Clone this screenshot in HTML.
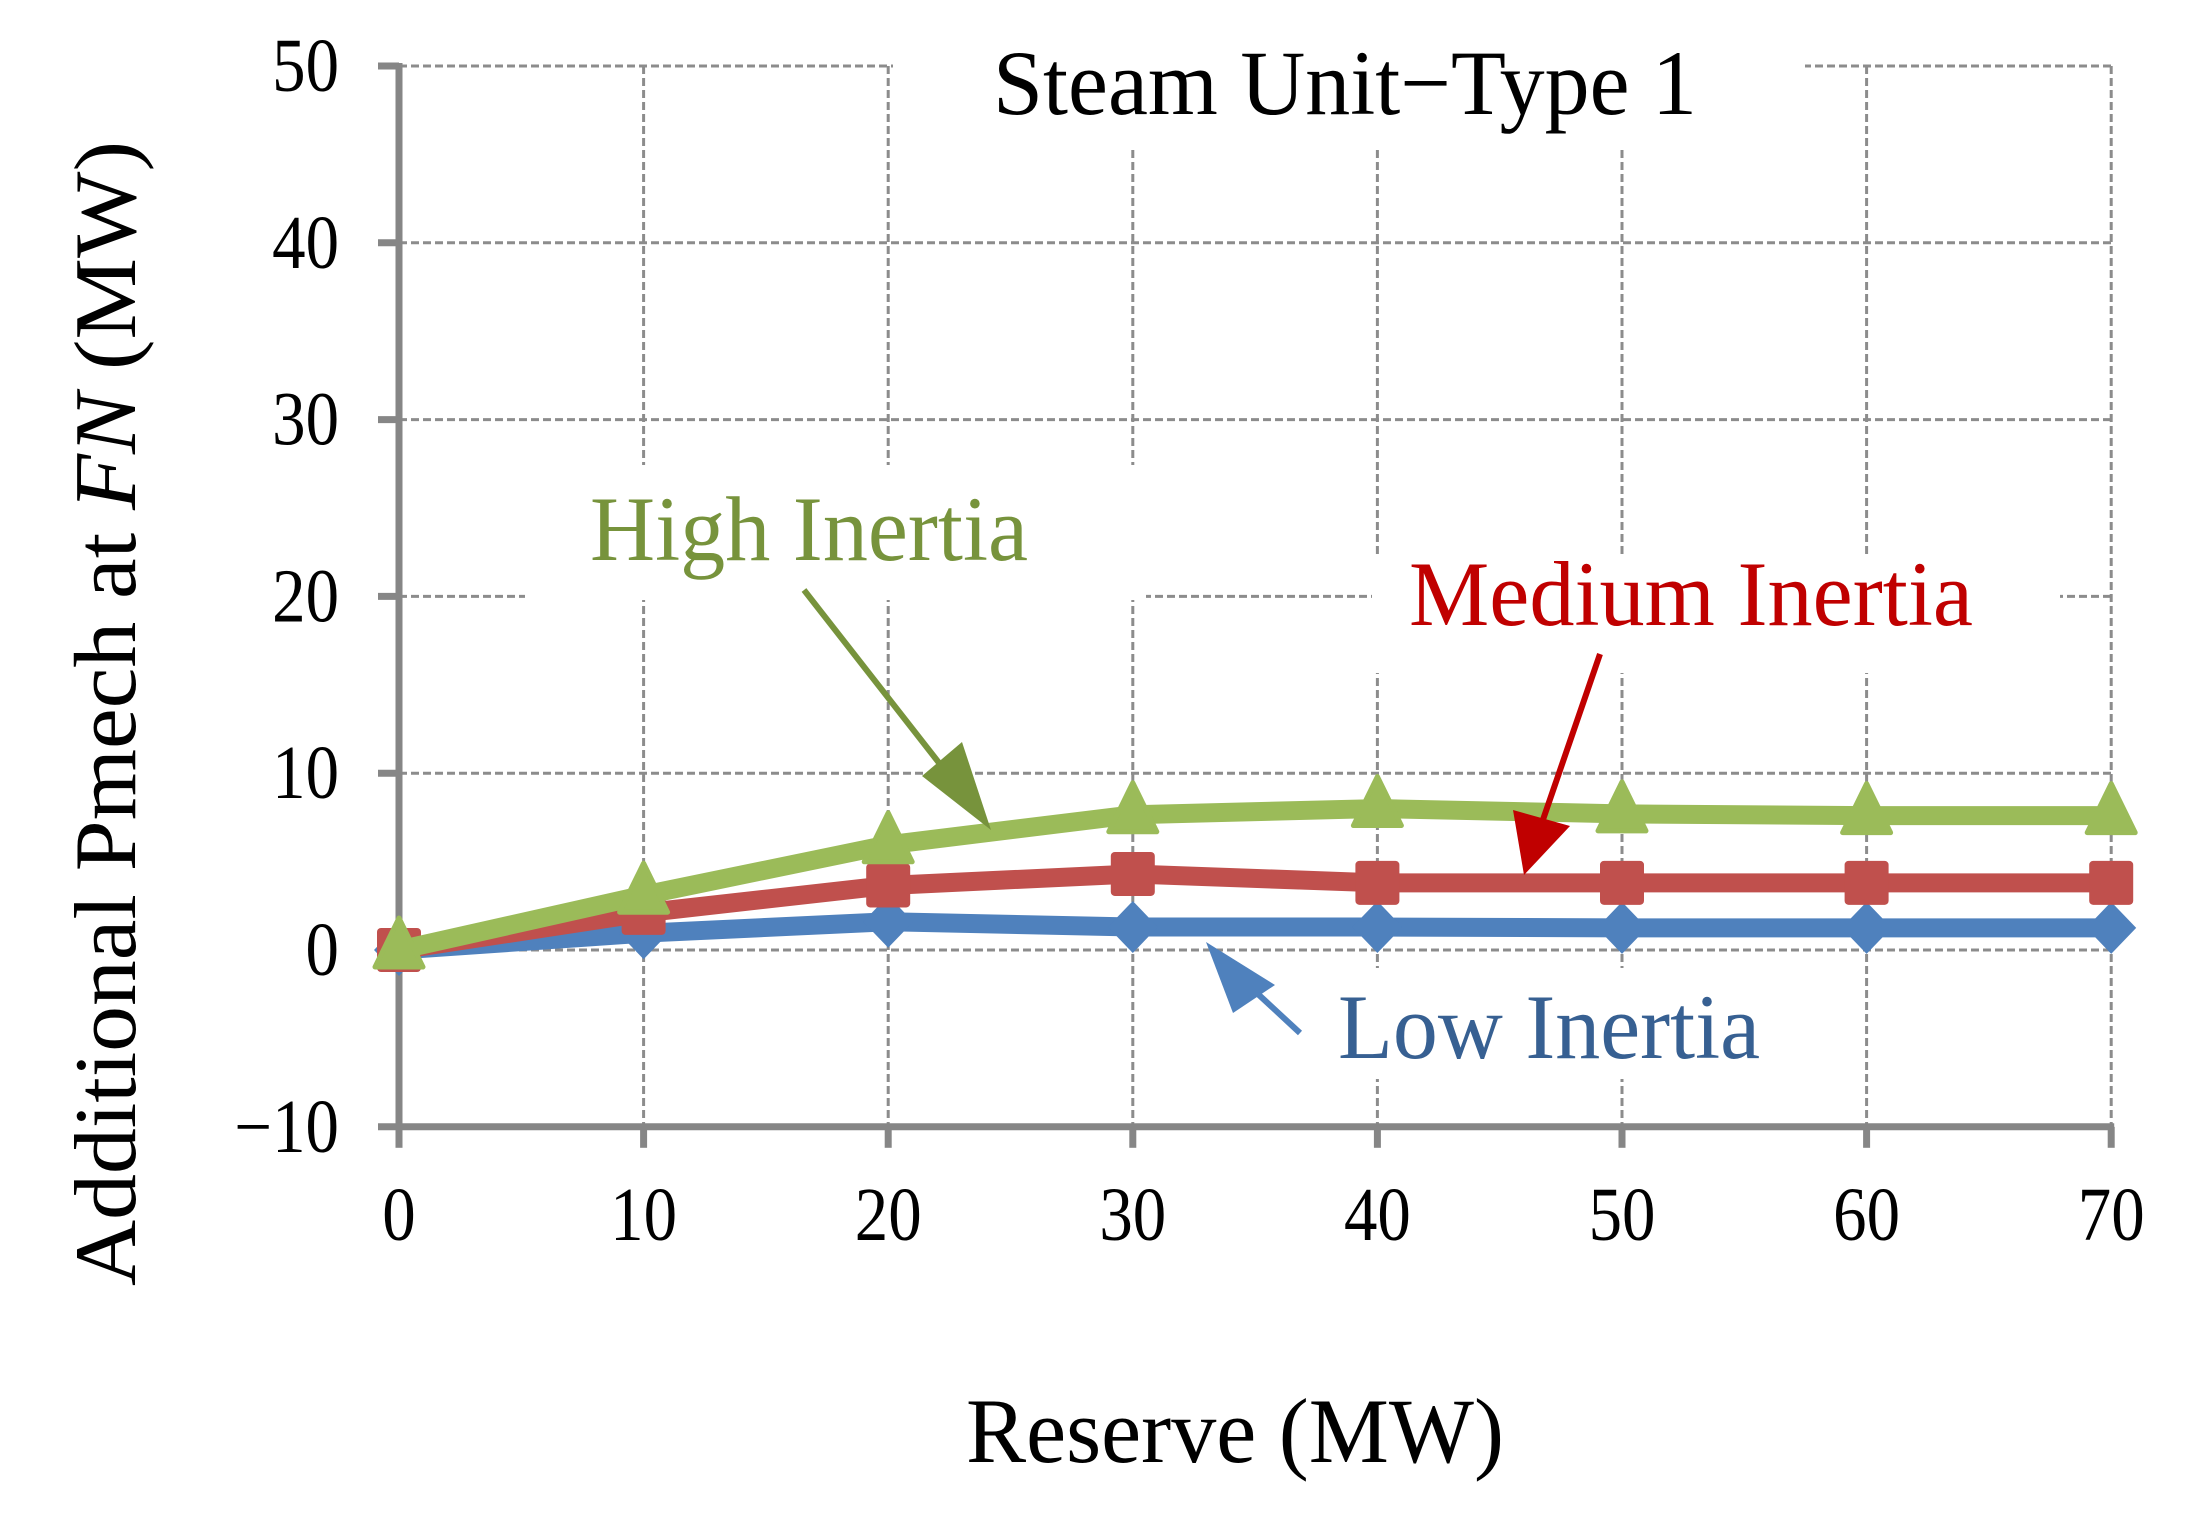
<!DOCTYPE html>
<html><head><meta charset="utf-8"><style>
html,body{margin:0;padding:0;background:#fff;}
svg{display:block;font-family:"Liberation Serif",serif;}
</style></head><body>
<svg id="chart" width="2195" height="1524" viewBox="0 0 2195 1524" xmlns="http://www.w3.org/2000/svg">
<g id="grid"></g>
<g id="boxes">
<rect x="893" y="20" width="912" height="128" fill="#fff"/>
<rect x="525" y="465" width="621" height="135" fill="#fff"/>
<rect x="1372" y="555" width="688" height="118" fill="#fff"/>
<rect x="1300" y="968" width="500" height="111" fill="#fff"/>
</g>
<g id="axes"></g>
<g id="series"></g>
<g id="annot">
<line x1="804" y1="590" x2="968" y2="800" stroke="#77933C" stroke-width="6"/>
<polygon points="991,830 922,776 962,742" fill="#77933C"/>
<line x1="1600" y1="654" x2="1536" y2="840" stroke="#C00000" stroke-width="6"/>
<polygon points="1524,875 1513,810 1570,826" fill="#C00000"/>
<line x1="1300" y1="1033" x2="1232" y2="970" stroke="#4F81BD" stroke-width="6"/>
<polygon points="1206,942 1275,985 1233,1013" fill="#4F81BD"/>
<text x="993" y="114" font-size="92" textLength="704" lengthAdjust="spacingAndGlyphs" fill="#000">Steam Unit−Type 1</text>
<text x="590" y="560" font-size="92" textLength="438" lengthAdjust="spacingAndGlyphs" fill="#77933C">High Inertia</text>
<text x="1409" y="625" font-size="92" textLength="564" lengthAdjust="spacingAndGlyphs" fill="#C00000">Medium Inertia</text>
<text x="1338" y="1058" font-size="92" textLength="422" lengthAdjust="spacingAndGlyphs" fill="#376092">Low Inertia</text>
<text x="966" y="1462" font-size="92" textLength="538" lengthAdjust="spacingAndGlyphs" fill="#000">Reserve (MW)</text>
<text transform="translate(135,1286) rotate(-90)" font-size="88" textLength="1145" lengthAdjust="spacingAndGlyphs" fill="#000">Additional Pmech at <tspan font-style="italic">FN</tspan>  (MW)</text>
</g>
</svg>
<script>
const xTicks=[0,10,20,30,40,50,60,70];
const yTicks=[-10,0,10,20,30,40,50];
const reserve=[0,10,20,30,40,50,60,70];
const lowInertia=[0,0.95,1.6,1.3,1.3,1.25,1.25,1.25];
const mediumInertia=[0,2.1,3.65,4.3,3.8,3.8,3.8,3.8];
const highInertia=[0,3.1,5.95,7.65,8.0,7.7,7.6,7.6];
const NS='http://www.w3.org/2000/svg';
function X(v){return 399+(v-0)*24.46;}
function Y(v){return 950-v*17.68;}
function mk(tag,attrs,parent){const e=document.createElementNS(NS,tag);for(const k in attrs)e.setAttribute(k,attrs[k]);parent.appendChild(e);return e;}
const grid=document.getElementById('grid'),axes=document.getElementById('axes'),ser=document.getElementById('series');
yTicks.forEach(t=>{if(t===-10)return;
 const l=mk('line',{x1:X(0),x2:X(70),y1:Y(t),y2:Y(t),stroke:'#8c8c8c','stroke-width':3,'stroke-dasharray':'8,4'},grid);
 
 
});
xTicks.forEach(t=>{if(t===0)return;
 const l=mk('line',{x1:X(t),x2:X(t),y1:Y(50),y2:Y(-10),stroke:'#8c8c8c','stroke-width':3,'stroke-dasharray':'8,4'},grid);
 
 
});
const ya=mk('line',{x1:X(0),x2:X(0),y1:Y(50)-3,y2:Y(-10)+3,stroke:'#868686','stroke-width':7},axes);


const xa=mk('line',{x1:X(0)-3,x2:X(70)+3,y1:Y(-10),y2:Y(-10),stroke:'#868686','stroke-width':7},axes);


yTicks.forEach(t=>{
 const tk=mk('line',{x1:X(0)-21,x2:X(0),y1:Y(t),y2:Y(t),stroke:'#868686','stroke-width':7},axes);
 
 
 const tx=mk('text',{transform:`translate(339,${Y(t)+25}) scale(0.88,1)`,'font-size':76,'text-anchor':'end',fill:'#000'},axes);
 tx.textContent=t<0?'−'+(-t):String(t);
 
 
});
xTicks.forEach(t=>{
 const tx=mk('text',{transform:`translate(${X(t)},1240) scale(0.88,1)`,'font-size':76,'text-anchor':'middle',fill:'#000'},axes);
 tx.textContent=String(t);
 
 
 const tk=mk('line',{x1:X(t),x2:X(t),y1:Y(-10),y2:Y(-10)+21,stroke:'#868686','stroke-width':7},axes);
 
 
});
function series(vals,color,shape,name){
 const g=mk('g',{},ser);
 
 
 const pts=vals.map((v,i)=>X(reserve[i])+','+Y(v)).join(' ');
 const pl=mk('polyline',{points:pts,fill:'none',stroke:color,'stroke-width':19,'stroke-linejoin':'round'},g);
 
 
 vals.forEach((v,i)=>{const x=X(reserve[i]),y=Y(v);let m;
  if(shape==='sq')m=mk('rect',{x:x-22,y:y-22,width:44,height:44,rx:4,fill:color},g);
  else if(shape==='di')m=mk('polygon',{points:`${x},${y-26} ${x+25},${y} ${x},${y+26} ${x-25},${y}`,fill:color},g);
  else m=mk('polygon',{points:`${x},${y-32} ${x+24},${y+17} ${x-24},${y+17}`,fill:color,stroke:color,'stroke-width':5,'stroke-linejoin':'round'},g);
  
  
 });
}
series(lowInertia,'#4F81BD','di','low-inertia');
series(mediumInertia,'#C0504D','sq','medium-inertia');
series(highInertia,'#9BBB59','tri','high-inertia');
</script>
</body></html>
